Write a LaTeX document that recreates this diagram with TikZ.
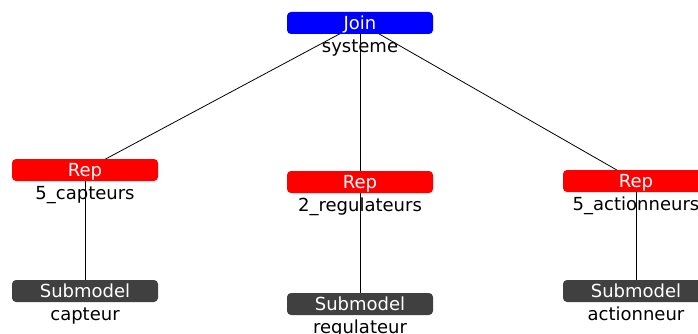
\documentclass[tikz,border=0pt]{standalone}
\usepackage{fontspec}
\setmainfont{DejaVu Sans}
\usetikzlibrary{positioning,backgrounds}
\definecolor{subgray}{RGB}{64,64,64}

\begin{document}
\begin{tikzpicture}[x=1pt,y=-1pt,
    box/.style={rounded corners=4pt,minimum width=146pt,minimum height=22pt,inner sep=0pt,
      text height=13pt,text depth=0pt,text=white,font=\fontsize{18}{20}\selectfont},
    lbl/.style={inner sep=0pt,text height=13pt,text depth=4pt,font=\fontsize{18}{20}\selectfont}]
  \useasboundingbox (0,0) rectangle (698,334);

  \node[box,fill=blue] (join) at (360,23) {Join};
  \node[box,fill=red] (rep1) at (85,170) {Rep};
  \node[box,fill=red] (rep2) at (360,182) {Rep};
  \node[box,fill=red] (rep3) at (636,181) {Rep};
  \node[box,fill=subgray] (sub1) at (85,291) {Submodel};
  \node[box,fill=subgray] (sub2) at (360,304) {Submodel};
  \node[box,fill=subgray] (sub3) at (636,291) {Submodel};

  \node[lbl,below=5pt of join] (systeme) {systeme};
  \node[lbl,below=5pt of rep1] (capteurs) {5\_capteurs};
  \node[lbl,below=5pt of rep2] (regulateurs) {2\_regulateurs};
  \node[lbl,below=5pt of rep3] (actionneurs) {5\_actionneurs};
  \node[lbl,below=5pt of sub1] (capteur) {capteur};
  \node[lbl,below=5pt of sub2] (regulateur) {regulateur};
  \node[lbl,below=5pt of sub3] (actionneur) {actionneur};

  \begin{pgfonlayer}{background}
  \path[draw,line width=0.8pt]
    (join.center) edge (rep1.center)
                  edge (rep2.center)
                  edge (rep3.center)
    (rep1.center) edge (sub1.center)
    (rep2.center) edge (sub2.center)
    (rep3.center) edge (sub3.center);
  \end{pgfonlayer}
\end{tikzpicture}
\end{document}
